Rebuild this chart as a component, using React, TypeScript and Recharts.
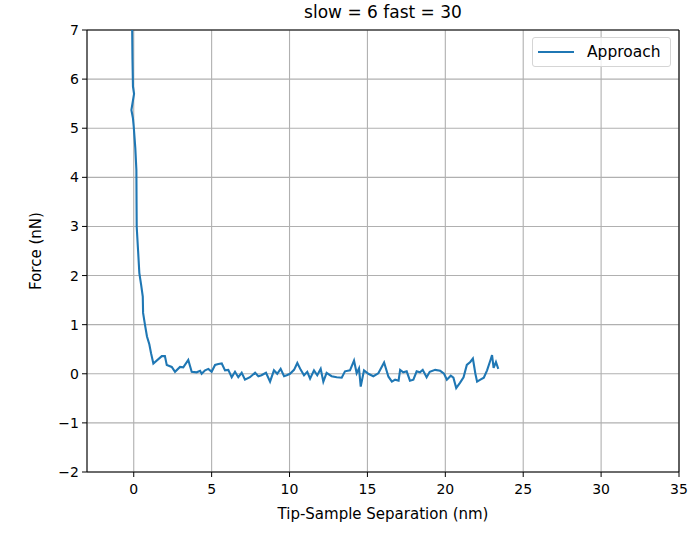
import {
  CartesianGrid,
  Line,
  LineChart,
  ReferenceLine,
  XAxis,
  YAxis,
} from "recharts";

// Approach curve
const separation = [
  -0.1, -0.08, -0.05, 0.02, -0.15, -0.05, 0.0, 0.1, 0.17, 0.18, 0.19, 0.28, 0.36,
  0.48, 0.58, 0.6, 0.72, 0.85, 1.0, 1.11, 1.26, 1.8, 2.0, 2.12, 2.44, 2.65, 2.97,
  3.18, 3.5, 3.72, 4.04, 4.26, 4.36, 4.58, 4.79, 5.0, 5.22, 5.43, 5.65, 5.86, 6.07,
  6.29, 6.5, 6.71, 6.93, 7.14, 7.46, 7.79, 8.0, 8.2, 8.49, 8.75, 9.0, 9.21, 9.43,
  9.65, 9.82, 10.03, 10.29, 10.5, 10.72, 10.93, 11.14, 11.32, 11.57, 11.78, 12.0,
  12.17, 12.38, 12.7, 13.03, 13.35, 13.56, 13.88, 14.14, 14.31, 14.46, 14.57,
  14.78, 15.06, 15.38, 15.7, 16.07, 16.35, 16.57, 16.78, 17.0, 17.1, 17.3, 17.52,
  17.73, 17.95, 18.16, 18.37, 18.55, 18.8, 19.0, 19.35, 19.67, 19.92, 20.1, 20.35,
  20.52, 20.7, 20.95, 21.17, 21.38, 21.6, 21.77, 21.93, 22.04, 22.25, 22.47, 22.68,
  22.9, 23.0, 23.1, 23.25, 23.4,
];
const force = [
  7.0, 6.4, 5.85, 5.7, 5.37, 5.2, 5.03, 4.6, 4.15, 3.5, 3.0, 2.5, 2.05, 1.8, 1.57,
  1.24, 1.0, 0.76, 0.6, 0.42, 0.21, 0.36, 0.36, 0.18, 0.14, 0.04, 0.14, 0.13, 0.28,
  0.04, 0.03, 0.06, 0.0, 0.07, 0.1, 0.04, 0.18, 0.2, 0.21, 0.07, 0.08, -0.07, 0.04,
  -0.07, 0.02, -0.12, -0.07, 0.02, -0.05, -0.03, 0.02, -0.16, 0.07, 0.0, 0.1,
  -0.05, -0.03, 0.0, 0.08, 0.22, 0.08, -0.03, 0.04, -0.1, 0.07, -0.03, 0.1, -0.16,
  0.02, -0.05, -0.07, -0.08, 0.05, 0.07, 0.27, 0.01, 0.11, -0.26, 0.07, 0.0,
  -0.05, 0.01, 0.23, -0.06, -0.16, -0.12, -0.14, 0.08, 0.03, 0.05, -0.14, -0.12,
  0.05, 0.03, 0.08, -0.07, 0.04, 0.08, 0.06, 0.0, -0.12, -0.04, -0.08, -0.29,
  -0.18, -0.07, 0.18, 0.24, 0.31, 0.0, -0.16, -0.12, -0.08, 0.07, 0.28, 0.38, 0.12,
  0.24, 0.1,
];
const xTicks = [0, 5, 10, 15, 20, 25, 30, 35];
const yTicks = [-2, -1, 0, 1, 2, 3, 4, 5, 6, 7];

const data = separation.map((x, i) => ({ x, f: force[i] }));

const FONT = "'DejaVu Sans', sans-serif";
const fmt = (v: number) => (v < 0 ? `\u2212${Math.abs(v)}` : `${v}`);
const tickStyle = { fontSize: 14, fill: "#000", fontFamily: FONT };

export default function App() {
  return (
    <div
      style={{
        position: "absolute",
        left: 0,
        top: 0,
        width: 692,
        height: 535,
        background: "#fff",
        fontFamily: FONT,
      }}
    >
      <LineChart
        width={692}
        height={535}
        data={data}
        margin={{ top: 30, right: 13, bottom: 33, left: 27 }}
      >
        <CartesianGrid stroke="#b0b0b0" strokeWidth={1.1} />
        <XAxis
          dataKey="x"
          type="number"
          domain={[-3, 35]}
          ticks={xTicks}
          allowDataOverflow
          tickFormatter={fmt}
          tick={tickStyle}
          stroke="#000"
          tickSize={5}
          tickMargin={7}
          height={30}
        />
        <YAxis
          type="number"
          domain={[-2, 7]}
          ticks={yTicks}
          allowDataOverflow
          tickFormatter={fmt}
          tick={tickStyle}
          stroke="#000"
          tickSize={5}
          tickMargin={3}
          width={60}
        />
        <ReferenceLine x={35} stroke="#000" strokeWidth={1.1} />
        <ReferenceLine y={7} stroke="#000" strokeWidth={1.1} />
        <Line
          dataKey="f"
          type="linear"
          stroke="#1f77b4"
          strokeWidth={2.1}
          dot={false}
          isAnimationActive={false}
        />
      </LineChart>
      <div
        style={{
          position: "absolute",
          left: 87,
          width: 592,
          top: 2,
          textAlign: "center",
          fontSize: 17,
        }}
      >
        slow = 6 fast = 30
      </div>
      <div
        style={{
          position: "absolute",
          left: 87,
          width: 592,
          top: 505,
          textAlign: "center",
          fontSize: 15,
        }}
      >
        Tip-Sample Separation (nm)
      </div>
      <div
        style={{
          position: "absolute",
          left: 36,
          top: 251,
          transform: "translate(-50%, -50%) rotate(-90deg)",
          whiteSpace: "nowrap",
          fontSize: 15,
        }}
      >
        Force (nN)
      </div>
      <div
        style={{
          position: "absolute",
          left: 532,
          top: 37,
          width: 137,
          height: 28,
          border: "1px solid #d5d5d5",
          borderRadius: 3,
          background: "rgba(255,255,255,0.8)",
          display: "flex",
          alignItems: "center",
          fontSize: 15.5,
        }}
      >
        <div style={{ marginLeft: 5, width: 36, height: 2, background: "#1f77b4" }} />
        <span style={{ marginLeft: 13 }}>Approach</span>
      </div>
    </div>
  );
}
